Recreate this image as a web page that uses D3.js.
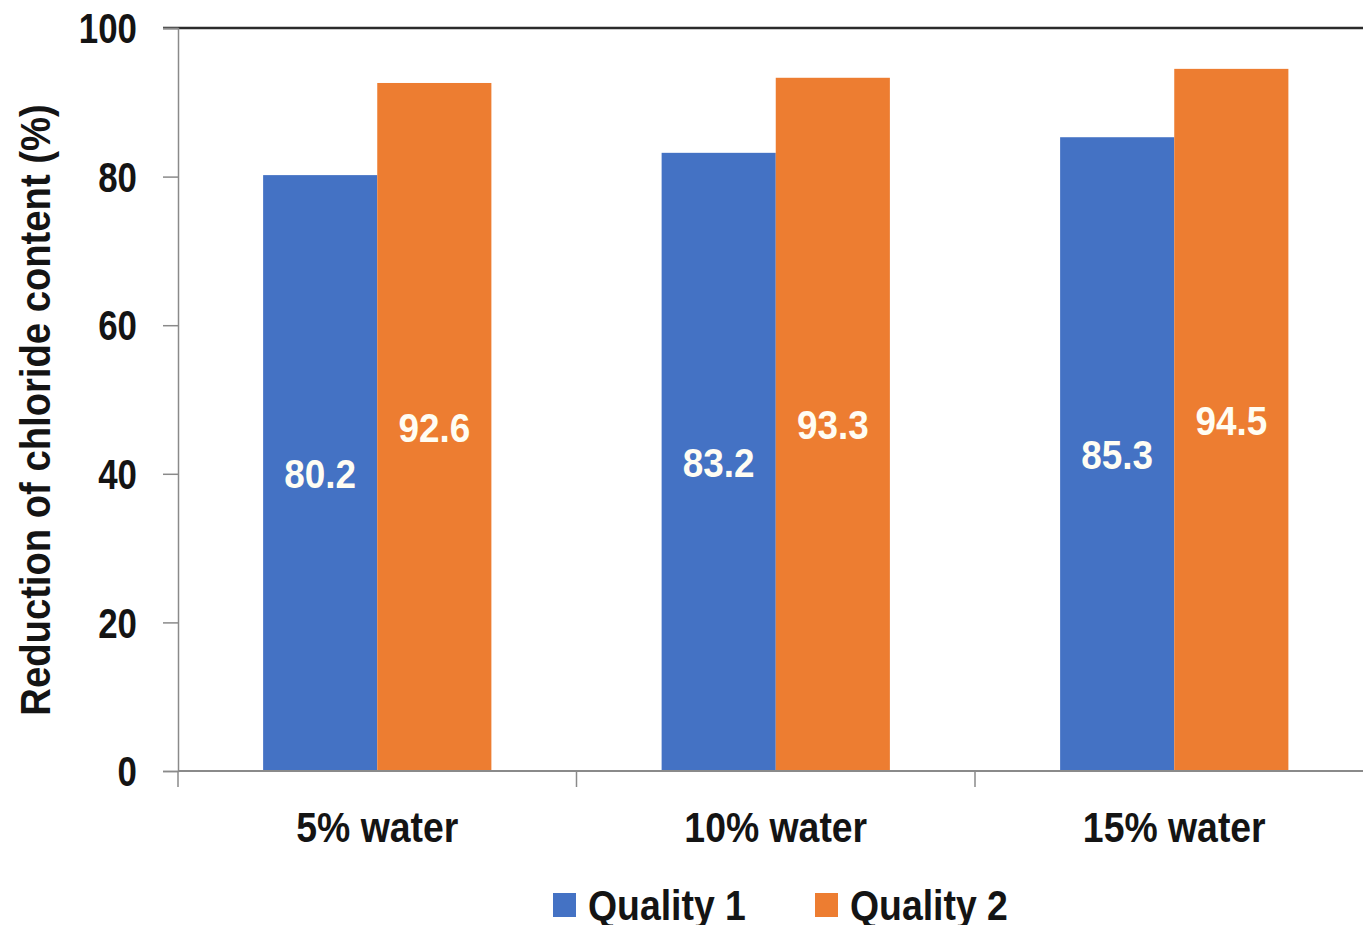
<!DOCTYPE html>
<html>
<head>
<meta charset="utf-8">
<script src="https://cdn.jsdelivr.net/npm/d3@7"></script>
<style>
  html, body { margin: 0; padding: 0; background: #fff; }
  svg { display: block; }
  text { font-family: "Liberation Sans", Arial, "DejaVu Sans", sans-serif; font-weight: bold; }
</style>
</head>
<body>
<svg id="chart" width="1363" height="925"></svg>
<script>
// Chloride reduction by water content for two qualities
const categories = ["5% water", "10% water", "15% water"];
const seriesNames = ["Quality 1", "Quality 2"];
const quality1 = [80.2, 83.2, 85.3];
const quality2 = [92.6, 93.3, 94.5];
const yTicks = [0, 20, 40, 60, 80, 100];
const colors = ["#4472C4", "#ED7D31"];

(function () {
const svg = d3.select("#chart");
const plotLeft = 178, plotTop = 28, plotBottom = 771, step = 398.5;
const ink = "#141414";

// narrow bold text: Liberation Sans squeezed horizontally
function narrowText(parent, x, y, str, size, sx, anchor, fill, extra) {
  return parent.append("text")
    .attr("transform", `translate(${x},${y}) ${extra || ""} scale(${sx},1)`)
    .attr("text-anchor", anchor)
    .attr("fill", fill)
    .style("font-size", size + "px")
    .text(str);
}

const x = d3.scaleBand().domain(categories).range([plotLeft, plotLeft + step * categories.length]).padding(0);
const xs = d3.scaleBand().domain(seriesNames).range([x.bandwidth() * 0.2136, x.bandwidth() * 0.7864]).padding(0);
const y = d3.scaleLinear().domain([0, 100]).range([plotBottom, plotTop]);

const rows = categories.map((c, i) => ({ cat: c, vals: [quality1[i], quality2[i]] }));

// bars
const groups = svg.append("g").selectAll("g.cat").data(rows).enter().append("g")
  .attr("class", "cat")
  .attr("transform", d => `translate(${x(d.cat)},0)`);
groups.selectAll("rect").data(d => d.vals.map((v, j) => ({ v, s: seriesNames[j], j })))
  .enter().append("rect")
  .attr("x", d => xs(d.s))
  .attr("width", xs.bandwidth())
  .attr("y", d => y(d.v))
  .attr("height", d => y(0) - y(d.v))
  .attr("fill", d => colors[d.j]);

// value labels in the middle of each bar
groups.each(function (d) {
  const gg = d3.select(this);
  d.vals.forEach((v, j) => {
    narrowText(gg, xs(seriesNames[j]) + xs.bandwidth() / 2, y(v / 2), v.toFixed(1), 41, 0.9, "middle", "#fffdf3")
      .attr("dy", "0.36em");
  });
});

// top frame line
svg.append("line")
  .attr("x1", 163).attr("x2", 1363).attr("y1", y(100)).attr("y2", y(100))
  .attr("stroke", "#2b2b2b").attr("stroke-width", 2.5);

// y axis
const yAxis = svg.append("g").attr("transform", `translate(${plotLeft},0)`)
  .call(d3.axisLeft(y).tickValues(yTicks).tickSize(15).tickFormat(""));
yAxis.select(".domain").attr("stroke", "#8a8a8a").attr("stroke-width", 1.5);
yAxis.selectAll(".tick line").attr("stroke", "#8a8a8a").attr("stroke-width", 1.5);
yTicks.forEach(t => {
  narrowText(svg, 137, y(t), String(t), 42, 0.83, "end", ink).attr("dy", "0.36em");
});

// x axis with ticks on category boundaries
const xAxisG = svg.append("g").attr("transform", `translate(0,${plotBottom})`);
xAxisG.append("line").attr("x1", plotLeft).attr("x2", 1363).attr("y1", 0).attr("y2", 0)
  .attr("stroke", "#8a8a8a").attr("stroke-width", 2);
xAxisG.selectAll("line.tk").data(categories).enter().append("line")
  .attr("class", "tk")
  .attr("x1", d => x(d)).attr("x2", d => x(d)).attr("y1", 0).attr("y2", 16)
  .attr("stroke", "#8a8a8a").attr("stroke-width", 1.5);
categories.forEach(c => {
  narrowText(svg, x(c) + x.bandwidth() / 2, 842, c, 42, 0.89, "middle", ink);
});

// y axis title
narrowText(svg, 50, 410, "Reduction of chloride content (%)", 42, 0.91, "middle", ink, "rotate(-90)");

// legend
const legendX = [553, 815];
seriesNames.forEach((s, i) => {
  svg.append("rect").attr("x", legendX[i]).attr("y", 893).attr("width", 23).attr("height", 24)
    .attr("fill", colors[i]);
  narrowText(svg, legendX[i] + 35, 920, s, 42, 0.89, "start", ink);
});
})();
</script>
</body>
</html>
